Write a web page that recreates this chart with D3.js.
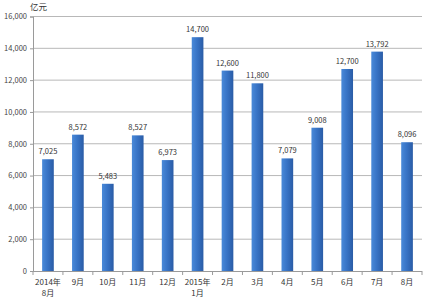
<!DOCTYPE html>
<html>
<head>
<meta charset="utf-8">
<script src="https://cdn.jsdelivr.net/npm/d3@7"></script>
<style>
  body { margin: 0; background: #fff; }
  text { font-family: "Noto Sans CJK SC", "Open Sans", sans-serif; }
</style>
</head>
<body>
<div id="chart"></div>
<script>
const months = ["2014年|8月", "9月", "10月", "11月", "12月", "2015年|1月", "2月", "3月", "4月", "5月", "6月", "7月", "8月"];
const values = [7025, 8572, 5483, 8527, 6973, 14700, 12600, 11800, 7079, 9008, 12700, 13792, 8096];
const yTicks = [0, 2000, 4000, 6000, 8000, 10000, 12000, 14000, 16000];
const unitLabel = "亿元";

const config = {
    width: 430,
    height: 299,
    left: 33,
    right: 422,
    top: 16.5,
    bottom: 271
};

const svg = d3.select("#chart")
    .append("svg")
    .attr("width", config.width)
    .attr("height", config.height);

const defs = svg.append("defs");
const grad = defs.append("linearGradient")
    .attr("id", "barGrad")
    .attr("x1", "0%").attr("x2", "100%")
    .attr("y1", "0%").attr("y2", "0%");
grad.append("stop").attr("offset", "0%").attr("stop-color", "#4a8ad9");
grad.append("stop").attr("offset", "45%").attr("stop-color", "#3874c6");
grad.append("stop").attr("offset", "100%").attr("stop-color", "#2a5ca6");

const yScale = d3.scaleLinear()
    .domain([0, 16000])
    .range([config.bottom, config.top]);

const xScale = d3.scaleBand()
    .domain(months)
    .range([config.left, config.right])
    .paddingInner(0.61)
    .paddingOuter(0.305);

// gridlines
svg.append("g")
    .selectAll("line")
    .data(yTicks.filter(t => t > 0))
    .enter().append("line")
    .attr("x1", config.left)
    .attr("x2", config.right)
    .attr("y1", d => yScale(d))
    .attr("y2", d => yScale(d))
    .style("stroke", "#b8b8b8")
    .style("stroke-width", 1);

// y axis
const yAxis = svg.append("g")
    .attr("transform", "translate(" + config.left + ",0)")
    .call(d3.axisLeft(yScale).tickValues(yTicks).tickSize(3).tickPadding(3).tickFormat(d3.format(",")));
yAxis.select(".domain").style("stroke", "#9a9a9a");
yAxis.selectAll(".tick line").style("stroke", "#9a9a9a");
yAxis.selectAll("text")
    .style("font-size", "7.5px")
    .style("fill", "#444");

// bars
svg.append("g")
    .selectAll("rect")
    .data(values)
    .enter().append("rect")
    .attr("x", (d, i) => xScale(months[i]))
    .attr("y", d => yScale(d))
    .attr("width", xScale.bandwidth())
    .attr("height", d => config.bottom - yScale(d))
    .style("fill", "url(#barGrad)");

// value labels
svg.append("g")
    .selectAll("text")
    .data(values)
    .enter().append("text")
    .attr("x", (d, i) => xScale(months[i]) + xScale.bandwidth() / 2)
    .attr("y", d => yScale(d) - 5)
    .attr("text-anchor", "middle")
    .style("font-size", "7.5px")
    .style("fill", "#333")
    .text(d => d3.format(",")(d));

// x axis
svg.append("line")
    .attr("x1", config.left)
    .attr("x2", config.right)
    .attr("y1", config.bottom + 0.5)
    .attr("y2", config.bottom + 0.5)
    .style("stroke", "#9a9a9a");

const step = xScale.step();
svg.append("g")
    .selectAll("line")
    .data(d3.range(months.length + 1))
    .enter().append("line")
    .attr("x1", i => config.left + i * step)
    .attr("x2", i => config.left + i * step)
    .attr("y1", config.bottom)
    .attr("y2", config.bottom + 4)
    .style("stroke", "#9a9a9a");

const xLabels = svg.append("g")
    .selectAll("text")
    .data(months)
    .enter().append("text")
    .attr("x", d => xScale(d) + xScale.bandwidth() / 2)
    .attr("y", config.bottom + 14)
    .attr("text-anchor", "middle")
    .style("font-size", "8px")
    .style("fill", "#333");

xLabels.each(function(d) {
    const parts = d.split("|");
    const t = d3.select(this);
    parts.forEach((p, j) => {
        t.append("tspan")
            .attr("x", xScale(d) + xScale.bandwidth() / 2)
            .attr("dy", j === 0 ? 0 : 11)
            .text(p);
    });
});

svg.append("text")
    .attr("x", 30)
    .attr("y", 10)
    .style("font-size", "8.5px")
    .style("fill", "#333")
    .text(unitLabel);
</script>
</body>
</html>
